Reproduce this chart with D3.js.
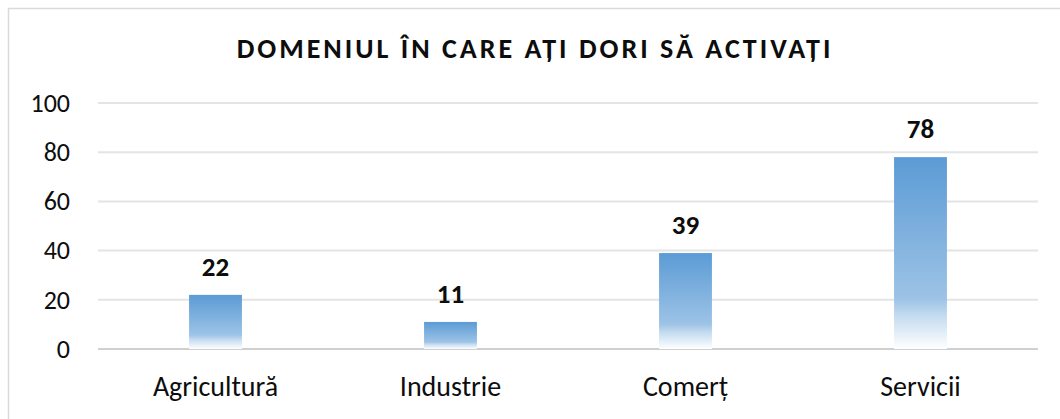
<!DOCTYPE html>
<html>
<head>
<meta charset="utf-8">
<script src="https://d3js.org/d3.v7.min.js"></script>
<style>
  body { margin: 0; background: #fff; }
  svg { display: block; font-family: Carlito, Calibri, Lato, "Open Sans", sans-serif; }
</style>
</head>
<body>
<svg class="chart" width="1060" height="419"></svg>

<script>
const categories = ["Agricultură", "Industrie", "Comerț", "Servicii"];
const values = [22, 11, 39, 78];
const yTicks = [0, 20, 40, 60, 80, 100];
const title = "DOMENIUL ÎN CARE AȚI DORI SĂ ACTIVAȚI";

const svg = d3.select(".chart");

// chart frame (right/bottom edges fall outside the picture)
svg.append("rect")
    .attr("x", 8.5).attr("y", 8.5)
    .attr("width", 1070).attr("height", 430)
    .attr("fill", "#fff")
    .attr("stroke", "#d9d9d9")
    .attr("stroke-width", 1.5);

const margin = { top: 103, right: 22, bottom: 70, left: 98 };
const width = 1060 - margin.left - margin.right;
const height = 419 - margin.top - margin.bottom;

const x = d3.scaleBand()
    .domain(categories)
    .range([0, width])
    .paddingInner(0.775)
    .paddingOuter(0.3875);

const y = d3.scaleLinear()
    .domain([0, 100])
    .range([height, 0]);

const defs = svg.append("defs");
const grad = defs.append("linearGradient")
    .attr("id", "barGrad")
    .attr("x1", 0).attr("y1", 0).attr("x2", 0).attr("y2", 1);
grad.append("stop").attr("offset", "0%").attr("stop-color", "#5b9bd5");
grad.append("stop").attr("offset", "74%").attr("stop-color", "#9dc3e6");
grad.append("stop").attr("offset", "83%").attr("stop-color", "#c5dcf0");
grad.append("stop").attr("offset", "100%").attr("stop-color", "#ffffff");

svg.append("text")
    .attr("x", 535)
    .attr("y", 58)
    .attr("text-anchor", "middle")
    .attr("font-size", 28)
    .attr("font-weight", "bold")
    .attr("fill", "#0d0d0d")
    .attr("letter-spacing", 3)
    .text(title);

const g = svg.append("g")
    .attr("transform", `translate(${margin.left},${margin.top})`);

// gridlines
g.selectAll(".grid")
    .data(yTicks)
    .enter().append("line")
    .attr("x1", 0).attr("x2", width)
    .attr("y1", d => y(d)).attr("y2", d => y(d))
    .attr("stroke", d => d === 0 ? "#d0d0d0" : "#e4e4e4")
    .attr("stroke-width", 2);

const yAxis = g.append("g")
    .call(d3.axisLeft(y).tickValues(yTicks).tickSize(0).tickPadding(28))
    .attr("font-family", null)
    .attr("font-size", 26);
yAxis.select(".domain").remove();
yAxis.selectAll("text").attr("fill", "#0d0d0d");

const xAxis = g.append("g")
    .attr("transform", `translate(0,${height})`)
    .call(d3.axisBottom(x).tickSize(0).tickPadding(27))
    .attr("font-family", null)
    .attr("font-size", 28);
xAxis.select(".domain").remove();
xAxis.selectAll("text").attr("fill", "#0d0d0d");

g.selectAll(".bar")
    .data(values)
    .enter().append("rect")
    .attr("class", "bar")
    .attr("x", (d, i) => x(categories[i]))
    .attr("y", d => y(d))
    .attr("width", x.bandwidth())
    .attr("height", d => height - y(d))
    .attr("fill", "url(#barGrad)");

g.selectAll(".label")
    .data(values)
    .enter().append("text")
    .attr("class", "label")
    .attr("x", (d, i) => x(categories[i]) + x.bandwidth() / 2)
    .attr("y", d => y(d) - 19)
    .attr("text-anchor", "middle")
    .attr("font-size", 27)
    .attr("font-weight", "bold")
    .attr("fill", "#0d0d0d")
    .text(d => d);
</script>
</body>
</html>
